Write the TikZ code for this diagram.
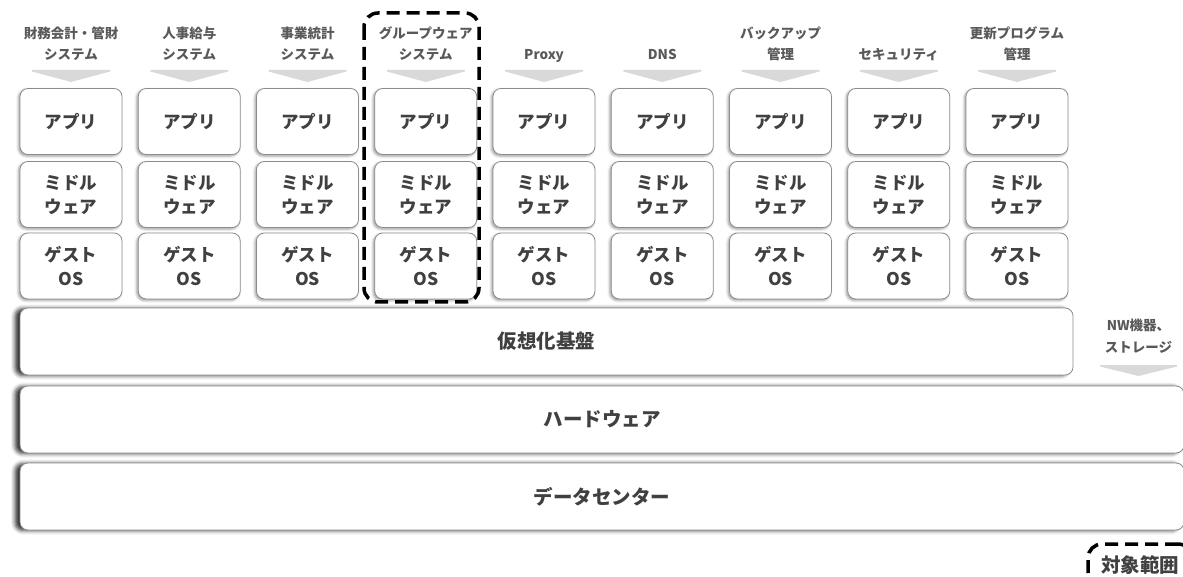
\documentclass[tikz,border=0pt]{standalone}
\usepackage{fontspec}
\setmainfont{Noto Sans CJK JP}
\usetikzlibrary{shadows.blur}
\definecolor{labelgray}{RGB}{89,89,89}
\definecolor{textgray}{RGB}{64,64,64}
\definecolor{edgegray}{RGB}{140,140,140}
\definecolor{arrowgray}{RGB}{217,217,217}

\tikzset{
  smallbox/.style={draw=edgegray, fill=white, rounded corners=8pt, line width=0.8pt,
    text=textgray, font=\bfseries\fontsize{17.5}{24}\selectfont, align=center, inner sep=0pt,
    minimum width=102pt, minimum height=66pt,
    blur shadow={shadow xshift=-1.5pt, shadow yshift=-1.5pt, shadow blur radius=2.5pt, shadow opacity=40}},
  bigbox/.style={draw=edgegray, fill=white, rounded corners=8pt, line width=0.8pt,
    text=textgray, font=\bfseries\fontsize{19.5}{24}\selectfont, inner sep=0pt,
    minimum height=67pt,
    blur shadow={shadow xshift=-5pt, shadow yshift=-0.5pt, shadow blur radius=4pt, shadow opacity=80}},
  sysname/.style={text=labelgray, font=\bfseries\fontsize{13.5}{21}\selectfont,
    align=center, anchor=base, inner sep=0pt},
  scopeline/.style={draw=black, line width=3.5pt, dash pattern=on 13pt off 7pt, rounded corners=14pt},
  legendbox/.style={scopeline, fill=white, text=textgray, font=\bfseries\fontsize{19.5}{24}\selectfont,
    minimum width=104pt, minimum height=42pt, inner sep=0pt},
}

\begin{document}
\begin{tikzpicture}[x=1pt, y=-1pt]
  \useasboundingbox (0,0) rectangle (1183,577);

  % columns: system name, arrow, three layers
  \foreach \i/\name in {1/{財務会計・管財\\システム}, 2/{人事給与\\システム}, 3/{事業統計\\システム},
      4/{グループウェア\\システム}, 5/{Proxy}, 6/{DNS}, 7/{バックアップ\\管理},
      8/{セキュリティ}, 9/{更新プログラム\\管理}} {
    \pgfmathsetmacro\cx{71+118.25*(\i-1)}
    \node[sysname] (lab\i) at (\cx,60) {\name};
    \fill[arrowgray] (\cx-39,70) -- (\cx+39,70) -- (\cx+39,71.5) -- (\cx,82) -- (\cx-39,71.5) -- cycle;
    \node[smallbox] (app\i) at (\cx,121.5) {アプリ};
    \node[smallbox] (mid\i) at (\cx,194.5) {ミドル\\ウェア};
    \node[smallbox] (os\i) at (\cx,266) {ゲスト\\OS};
  }

  % shared layers
  \node[bigbox, minimum width=1053pt] (virt) at (546.5,341.5) {仮想化基盤};
  \node[bigbox, minimum width=1164pt] (hw) at (602,419.5) {ハードウェア};
  \node[bigbox, minimum width=1164pt] (dc) at (602,496.5) {データセンター};

  \node[sysname] (nw) at (1138.5,352) {NW機器、\\ストレージ};
  \fill[arrowgray] (1100,365) -- (1177,365) -- (1177,366.5) -- (1138.5,376) -- (1100,366.5) -- cycle;

  % target scope
  \draw[scopeline] (364,13) rectangle (479,302);
  \node[legendbox] (legend) at (1140,565) {対象範囲};

\end{tikzpicture}
\end{document}
